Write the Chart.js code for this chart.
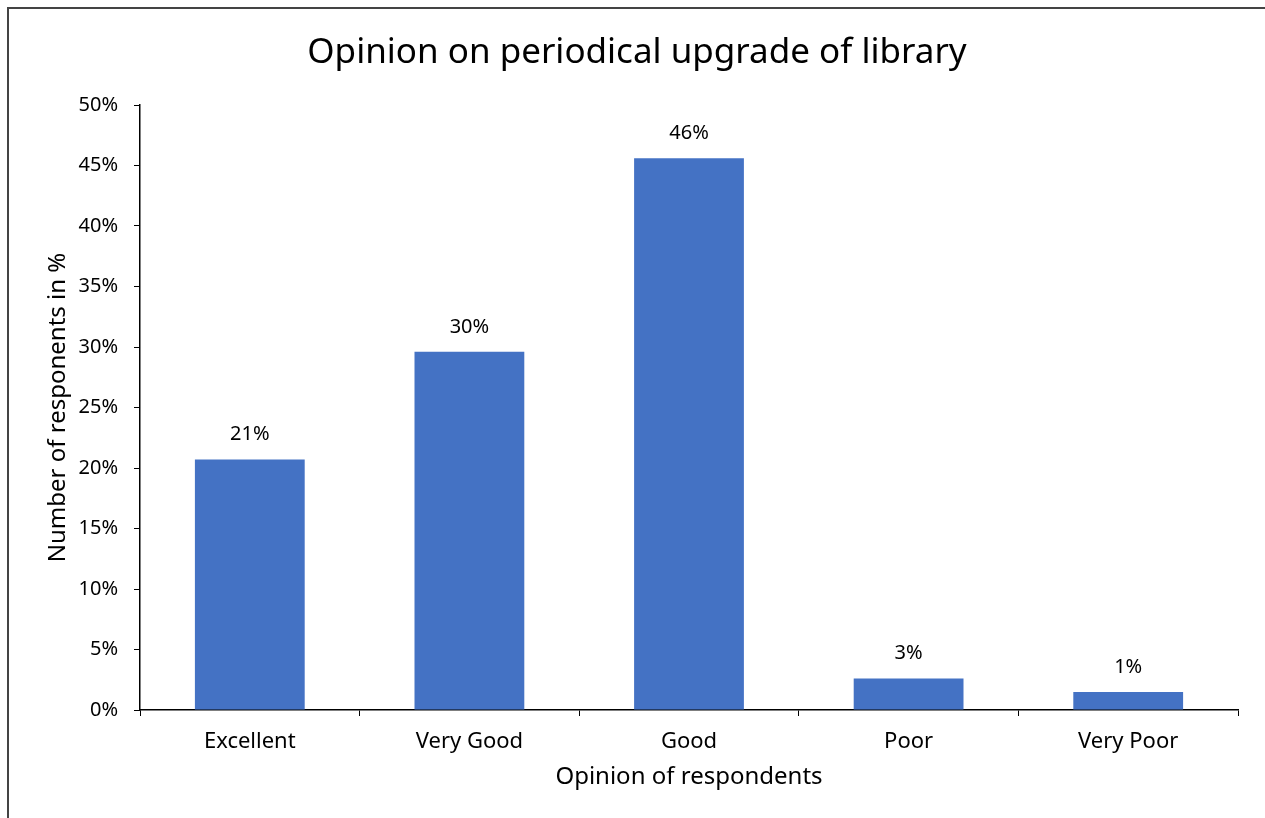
<!DOCTYPE html>
<html>
<head>
<meta charset="utf-8">
<script src="https://cdn.jsdelivr.net/npm/chart.js@4/dist/chart.umd.min.js"></script>
<style>
  html, body { margin: 0; padding: 0; background: #fff; }
  #wrap { width: 1265px; height: 818px; position: relative; }
</style>
</head>
<body>
<div id="wrap"><canvas id="chart"></canvas></div>
<script>
const categories = ['Excellent', 'Very Good', 'Good', 'Poor', 'Very Poor']
const responses = [20.7, 29.6, 45.6, 2.6, 1.48]
const FONT = "'Noto Sans', sans-serif"

// title, frame and value labels drawn on the canvas
const decorations = {
  id: 'decorations',
  beforeDraw(chart) {
    const ctx = chart.ctx
    ctx.save()
    ctx.fillStyle = '#fff'
    ctx.fillRect(0, 0, chart.width, chart.height)
    ctx.strokeStyle = '#444'
    ctx.lineWidth = 2
    ctx.beginPath()
    ctx.moveTo(8, chart.height)
    ctx.lineTo(8, 8)
    ctx.lineTo(chart.width, 8)
    ctx.stroke()
    ctx.restore()
  },
  afterDatasetsDraw(chart) {
    const ctx = chart.ctx
    ctx.save()
    ctx.fillStyle = '#000'
    ctx.textAlign = 'center'
    ctx.textBaseline = 'middle'
    ctx.font = '35px ' + FONT
    ctx.fillText('Opinion on periodical upgrade of library', 637, 53)
    ctx.font = '20px ' + FONT
    chart.getDatasetMeta(0).data.forEach((bar, i) => {
      ctx.fillText(Math.round(responses[i]) + '%', bar.x, bar.y - 25)
    })
    ctx.restore()
  },
}

new Chart(document.getElementById('chart'), {
  type: 'bar',
  data: {
    labels: categories,
    datasets: [{
      data: responses,
      backgroundColor: '#4472C4',
      borderWidth: 0,
      barPercentage: 0.5,
      categoryPercentage: 1,
    }],
  },
  options: {
    responsive: true,
    maintainAspectRatio: false,
    animation: false,
    layout: { padding: { left: 10, top: 105, right: 27, bottom: 8 } },
    plugins: {
      legend: { display: false },
      tooltip: { enabled: false },
    },
    scales: {
      x: {
        offset: true,
        afterFit: (s) => { s.height = 100 },
        grid: { offset: true, drawOnChartArea: false, tickLength: 6, color: '#000' },
        border: { color: '#000', width: 1.5 },
        ticks: { color: '#000', padding: 13, font: { family: FONT, size: 22 } },
        title: {
          display: true,
          text: 'Opinion of respondents',
          color: '#000',
          font: { family: FONT, size: 24 },
          padding: { top: 0, bottom: 18 },
        },
      },
      y: {
        min: 0,
        max: 50,
        afterFit: (s) => { s.width = 130 },
        grid: { drawOnChartArea: false, tickLength: 6, color: '#000' },
        border: { color: '#000', width: 1.5 },
        ticks: {
          stepSize: 5,
          color: '#000',
          padding: 16,
          font: { family: FONT, size: 20 },
          callback: (v) => v + '%',
        },
        title: {
          display: true,
          text: 'Number of responents in %',
          color: '#000',
          font: { family: FONT, size: 24 },
          padding: { top: 34, bottom: 0 },
        },
      },
    },
  },
  plugins: [decorations],
})
</script>
</body>
</html>
